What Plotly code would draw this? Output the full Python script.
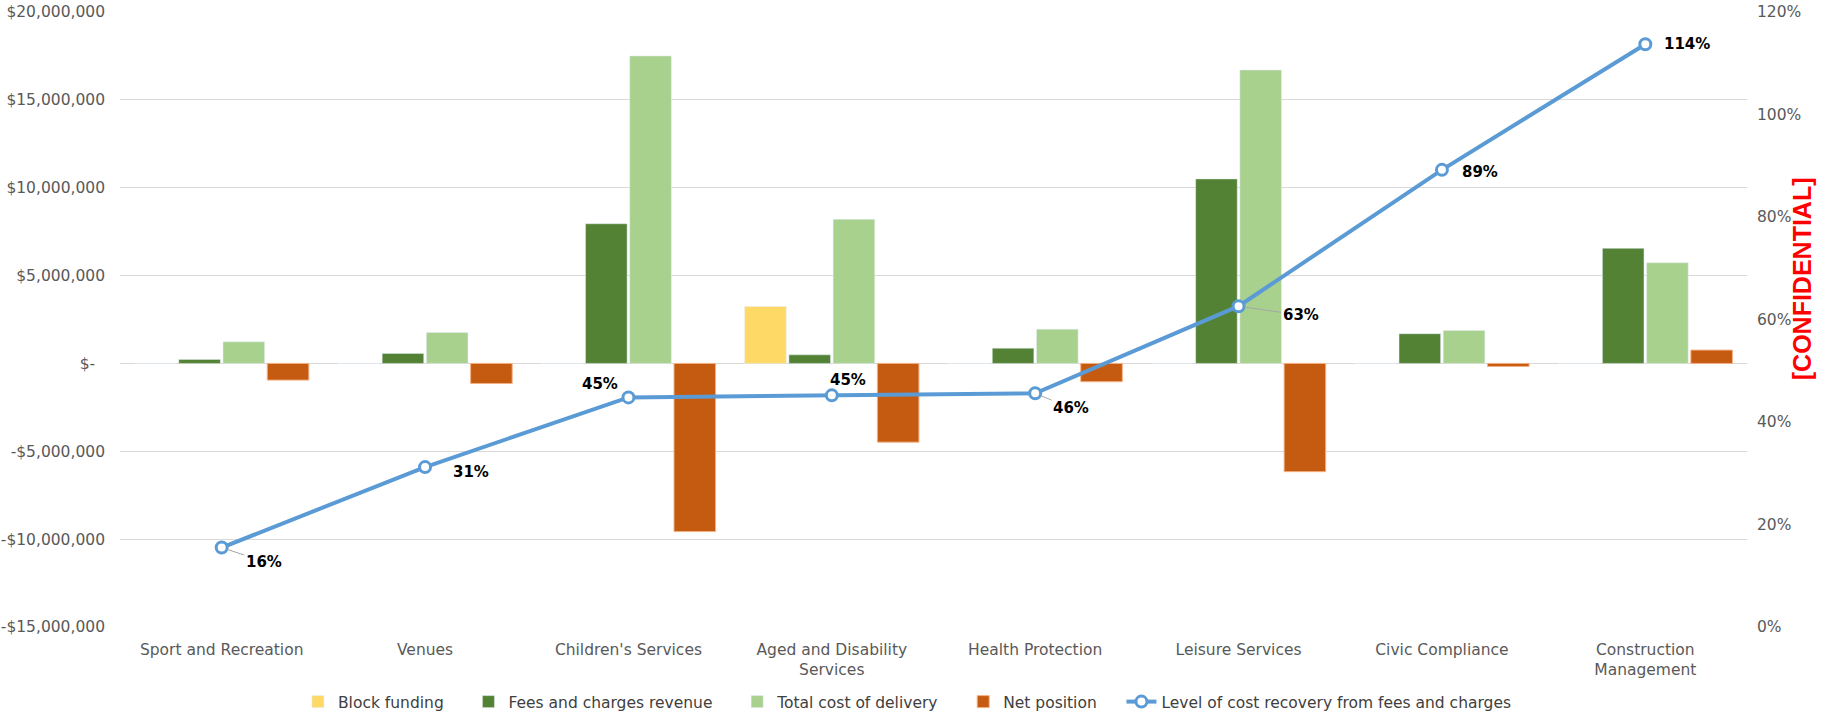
import plotly.graph_objects as go

categories = ["Sport and Recreation", "Venues", "Children's Services", "Aged and Disability<br>Services",
              "Health Protection", "Leisure Services", "Civic Compliance", "Construction<br>Management"]
block_funding = [0, 0, 0, 3240000, 0, 0, 0, 0]
fees_revenue = [230000, 570000, 7950000, 490000, 870000, 10500000, 1690000, 6550000]
total_cost = [1230000, 1760000, 17500000, 8200000, 1950000, 16700000, 1880000, 5730000]
net_position = [-950000, -1140000, -9570000, -4480000, -1040000, -6160000, -170000, 760000]
cost_recovery = [0.155, 0.312, 0.448, 0.452, 0.456, 0.626, 0.892, 1.137]
recovery_labels = ["16%", "31%", "45%", "45%", "46%", "63%", "89%", "114%"]

left_tickvals = [-15000000, -10000000, -5000000, 0, 5000000, 10000000, 15000000, 20000000]
left_ticktext = ["-$15,000,000", "-$10,000,000", "-$5,000,000", "$-\u00a0\u00a0", "$5,000,000",
                 "$10,000,000", "$15,000,000", "$20,000,000"]

FONT = "Verdana, DejaVu Sans, sans-serif"
TICK = "#595959"
PAD = "\u00a0" * 4  # extra legend spacing between entries

fig = go.Figure()
fig.add_trace(go.Bar(name="Block funding" + PAD, x=categories, y=block_funding, marker_color="#FFD966"))
fig.add_trace(go.Bar(name="Fees and charges revenue" + PAD, x=categories, y=fees_revenue, marker_color="#548235"))
fig.add_trace(go.Bar(name="Total cost of delivery" + PAD, x=categories, y=total_cost, marker_color="#A9D18E"))
fig.add_trace(go.Bar(name="Net position" + PAD, x=categories, y=net_position, marker_color="#C55A11",
                     marker_line=dict(color="#F4B183", width=1)))
fig.add_trace(go.Scatter(name="Level of cost recovery from fees and charges", x=categories, y=cost_recovery,
                         yaxis="y2", mode="lines+markers",
                         line=dict(color="#5B9BD5", width=4),
                         marker=dict(symbol="circle", size=11, color="white",
                                     line=dict(color="#5B9BD5", width=3))))

# label offsets (px) and whether a leader line is drawn
label_style = [(42, 14, True), (46, 5, False), (-28, -13, False), (16, -15, False),
               (36, 15, True), (62, 9, True), (38, 2, False), (42, 0, False)]
for cat, val, txt, (dx, dy, leader) in zip(categories, cost_recovery, recovery_labels, label_style):
    if leader:
        fig.add_annotation(x=cat, y=val, xref="x", yref="y2", text="<b>" + txt + "</b>",
                           showarrow=True, arrowhead=0, arrowwidth=1, arrowcolor="#A6A6A6",
                           ax=dx, ay=dy, standoff=6,
                           font=dict(family=FONT, size=15, color="#000000"))
    else:
        fig.add_annotation(x=cat, y=val, xref="x", yref="y2", text="<b>" + txt + "</b>",
                           showarrow=False, xshift=dx, yshift=-dy,
                           font=dict(family=FONT, size=15, color="#000000"))

fig.add_annotation(x=1.034, y=0.566, xref="paper", yref="paper", text="<b>[CONFIDENTIAL]</b>",
                   showarrow=False, textangle=-90, xanchor="center", yanchor="middle",
                   font=dict(family="Liberation Sans Narrow, Arial Narrow, Liberation Sans, sans-serif",
                             size=25, color="#FF0000"))

fig.update_layout(
    width=1846, height=711,
    margin=dict(l=120, r=99, t=12, b=84, autoexpand=False),
    paper_bgcolor="white", plot_bgcolor="white",
    barmode="group", bargap=0.13, bargroupgap=0.06,
    font=dict(family=FONT, size=15, color=TICK),
    showlegend=True,
    legend=dict(orientation="h", x=0.484, xanchor="center", y=-0.122, yanchor="middle",
                font=dict(family=FONT, size=15.5, color="#404040"), traceorder="normal"),
    xaxis=dict(showgrid=False, showline=False, ticks="", tickfont=dict(size=15.5, color=TICK),
               zeroline=False, ticklabelstandoff=11, automargin=False),
    yaxis=dict(range=[-15000000, 20000000], tickvals=left_tickvals, ticktext=left_ticktext,
               showgrid=True, gridcolor="#D9D9D9", gridwidth=1, zeroline=True,
               zerolinecolor="#D9D9D9", zerolinewidth=1, showline=False, automargin=False,
               tickfont=dict(size=15.5, color=TICK), ticks="", ticklabelstandoff=14),
    yaxis2=dict(range=[0, 1.2], dtick=0.2, tickformat=".0%", overlaying="y", side="right",
                showgrid=False, zeroline=False, showline=False, ticklabelstandoff=9, automargin=False,
                tickfont=dict(size=15.5, color=TICK)),
)

fig.write_html("out.html")
